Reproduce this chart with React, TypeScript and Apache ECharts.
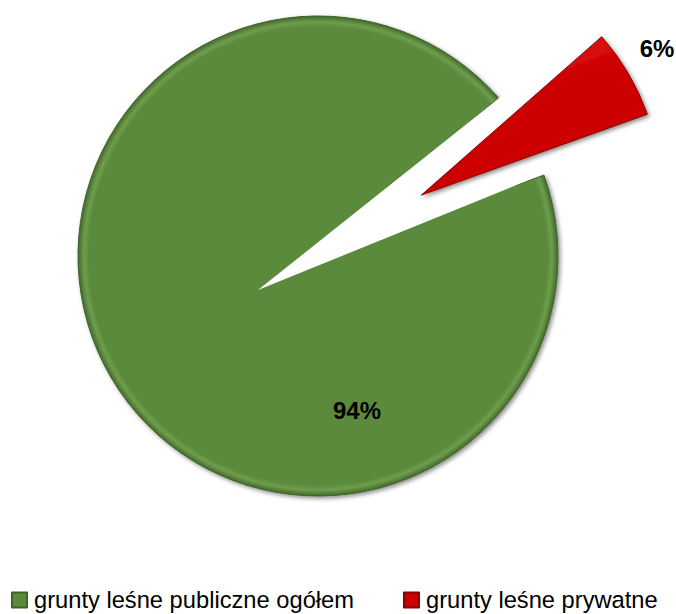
import React, { useEffect, useRef } from "react";
import * as echarts from "echarts";

const categories = ["grunty leśne publiczne ogółem", "grunty leśne prywatne"];
const shares = [94, 6];
const sliceColors = ["#5C8A3C", "#CC0000"];

const FONT = "'Liberation Sans', Arial, sans-serif";

// label anchor points (percent labels)
const labelAnchors = [
  [357, 410],
  [657, 48],
];

export default function App() {
  const ref = useRef<HTMLDivElement>(null);

  useEffect(() => {
    if (!ref.current) return;
    const chart = echarts.init(ref.current, null, { renderer: "svg" });

    const hiddenStyle = {
      itemStyle: { color: "transparent", borderWidth: 0, shadowBlur: 0 },
      emphasis: { disabled: true },
    };

    const center = [318, 256];
    const radius = 240;
    const startAngle = 19.7;

    const greenData = categories.map((name, i) =>
      i === 0
        ? {
            name,
            value: shares[i],
            itemStyle: {
              color: {
                type: "radial",
                x: 0.5,
                y: 0.5,
                r: 0.5,
                colorStops: [
                  { offset: 0, color: sliceColors[i] },
                  { offset: 0.955, color: sliceColors[i] },
                  { offset: 0.975, color: "#6E9E4C" },
                  { offset: 1, color: "#44682C" },
                ],
              },
              borderColor: "#3E6327",
              borderWidth: 1,
              shadowBlur: 4,
              shadowColor: "rgba(0,0,0,0.45)",
              shadowOffsetX: 2,
              shadowOffsetY: 2,
            },
          }
        : { name: "", value: shares[i], ...hiddenStyle }
    );

    const redData = categories.map((name, i) =>
      i === 1
        ? {
            name,
            value: shares[i],
            selected: true,
            itemStyle: {
              color: {
                type: "linear",
                x: 0.25,
                y: 0.2,
                x2: 0.6,
                y2: 0.85,
                colorStops: [
                  { offset: 0, color: "#E81818" },
                  { offset: 0.35, color: sliceColors[i] },
                  { offset: 0.8, color: sliceColors[i] },
                  { offset: 1, color: "#8A0000" },
                ],
              },
              borderColor: "#8A0000",
              borderWidth: 1,
              shadowBlur: 4,
              shadowColor: "rgba(0,0,0,0.45)",
              shadowOffsetX: 2,
              shadowOffsetY: 2,
            },
          }
        : { name: "", value: shares[i], ...hiddenStyle }
    );

    chart.setOption({
      animation: false,
      backgroundColor: "#ffffff",
      legend: {
        data: categories.map((name, i) => ({
          name,
          itemStyle: { color: sliceColors[i] },
        })),
        left: 11,
        top: 588,
        orient: "horizontal",
        icon: "rect",
        itemWidth: 15,
        itemHeight: 15,
        itemGap: 49,
        padding: 0,
        selectedMode: false,
        textStyle: {
          fontFamily: FONT,
          fontSize: 23.7,
          color: "#000",
          padding: [0, 0, 0, 2],
        },
      },
      series: [
        {
          type: "pie",
          z: 2,
          center,
          radius,
          startAngle,
          clockwise: true,
          silent: true,
          label: {
            show: true,
            position: "inside",
            formatter: "{d}%",
            fontFamily: FONT,
            fontWeight: "bold",
            fontSize: 24,
            color: "#000",
          },
          labelLine: { show: false },
          labelLayout: (p: any) => ({
            x: labelAnchors[p.dataIndex][0],
            y: labelAnchors[p.dataIndex][1],
            align: "center",
            verticalAlign: "middle",
          }),
          data: greenData,
        },
        {
          // white wedge reproducing the perspective apex of the cut
          type: "pie",
          z: 3,
          center: [258, 290],
          radius: 312,
          startAngle: 38.5,
          clockwise: true,
          silent: true,
          label: { show: false },
          labelLine: { show: false },
          data: [
            { value: 16.4, name: "", itemStyle: { color: "#ffffff" } },
            { value: 343.6, name: "", itemStyle: { color: "transparent" } },
          ],
        },
        {
          type: "pie",
          z: 4,
          center,
          radius,
          startAngle,
          clockwise: true,
          silent: true,
          selectedMode: "multiple",
          selectedOffset: 120,
          label: { show: false },
          labelLine: { show: false },
          data: redData,
        },
      ],
    });

    return () => chart.dispose();
  }, []);

  return (
    <div
      ref={ref}
      style={{ position: "fixed", left: 0, top: 0, width: 676, height: 614 }}
    />
  );
}
